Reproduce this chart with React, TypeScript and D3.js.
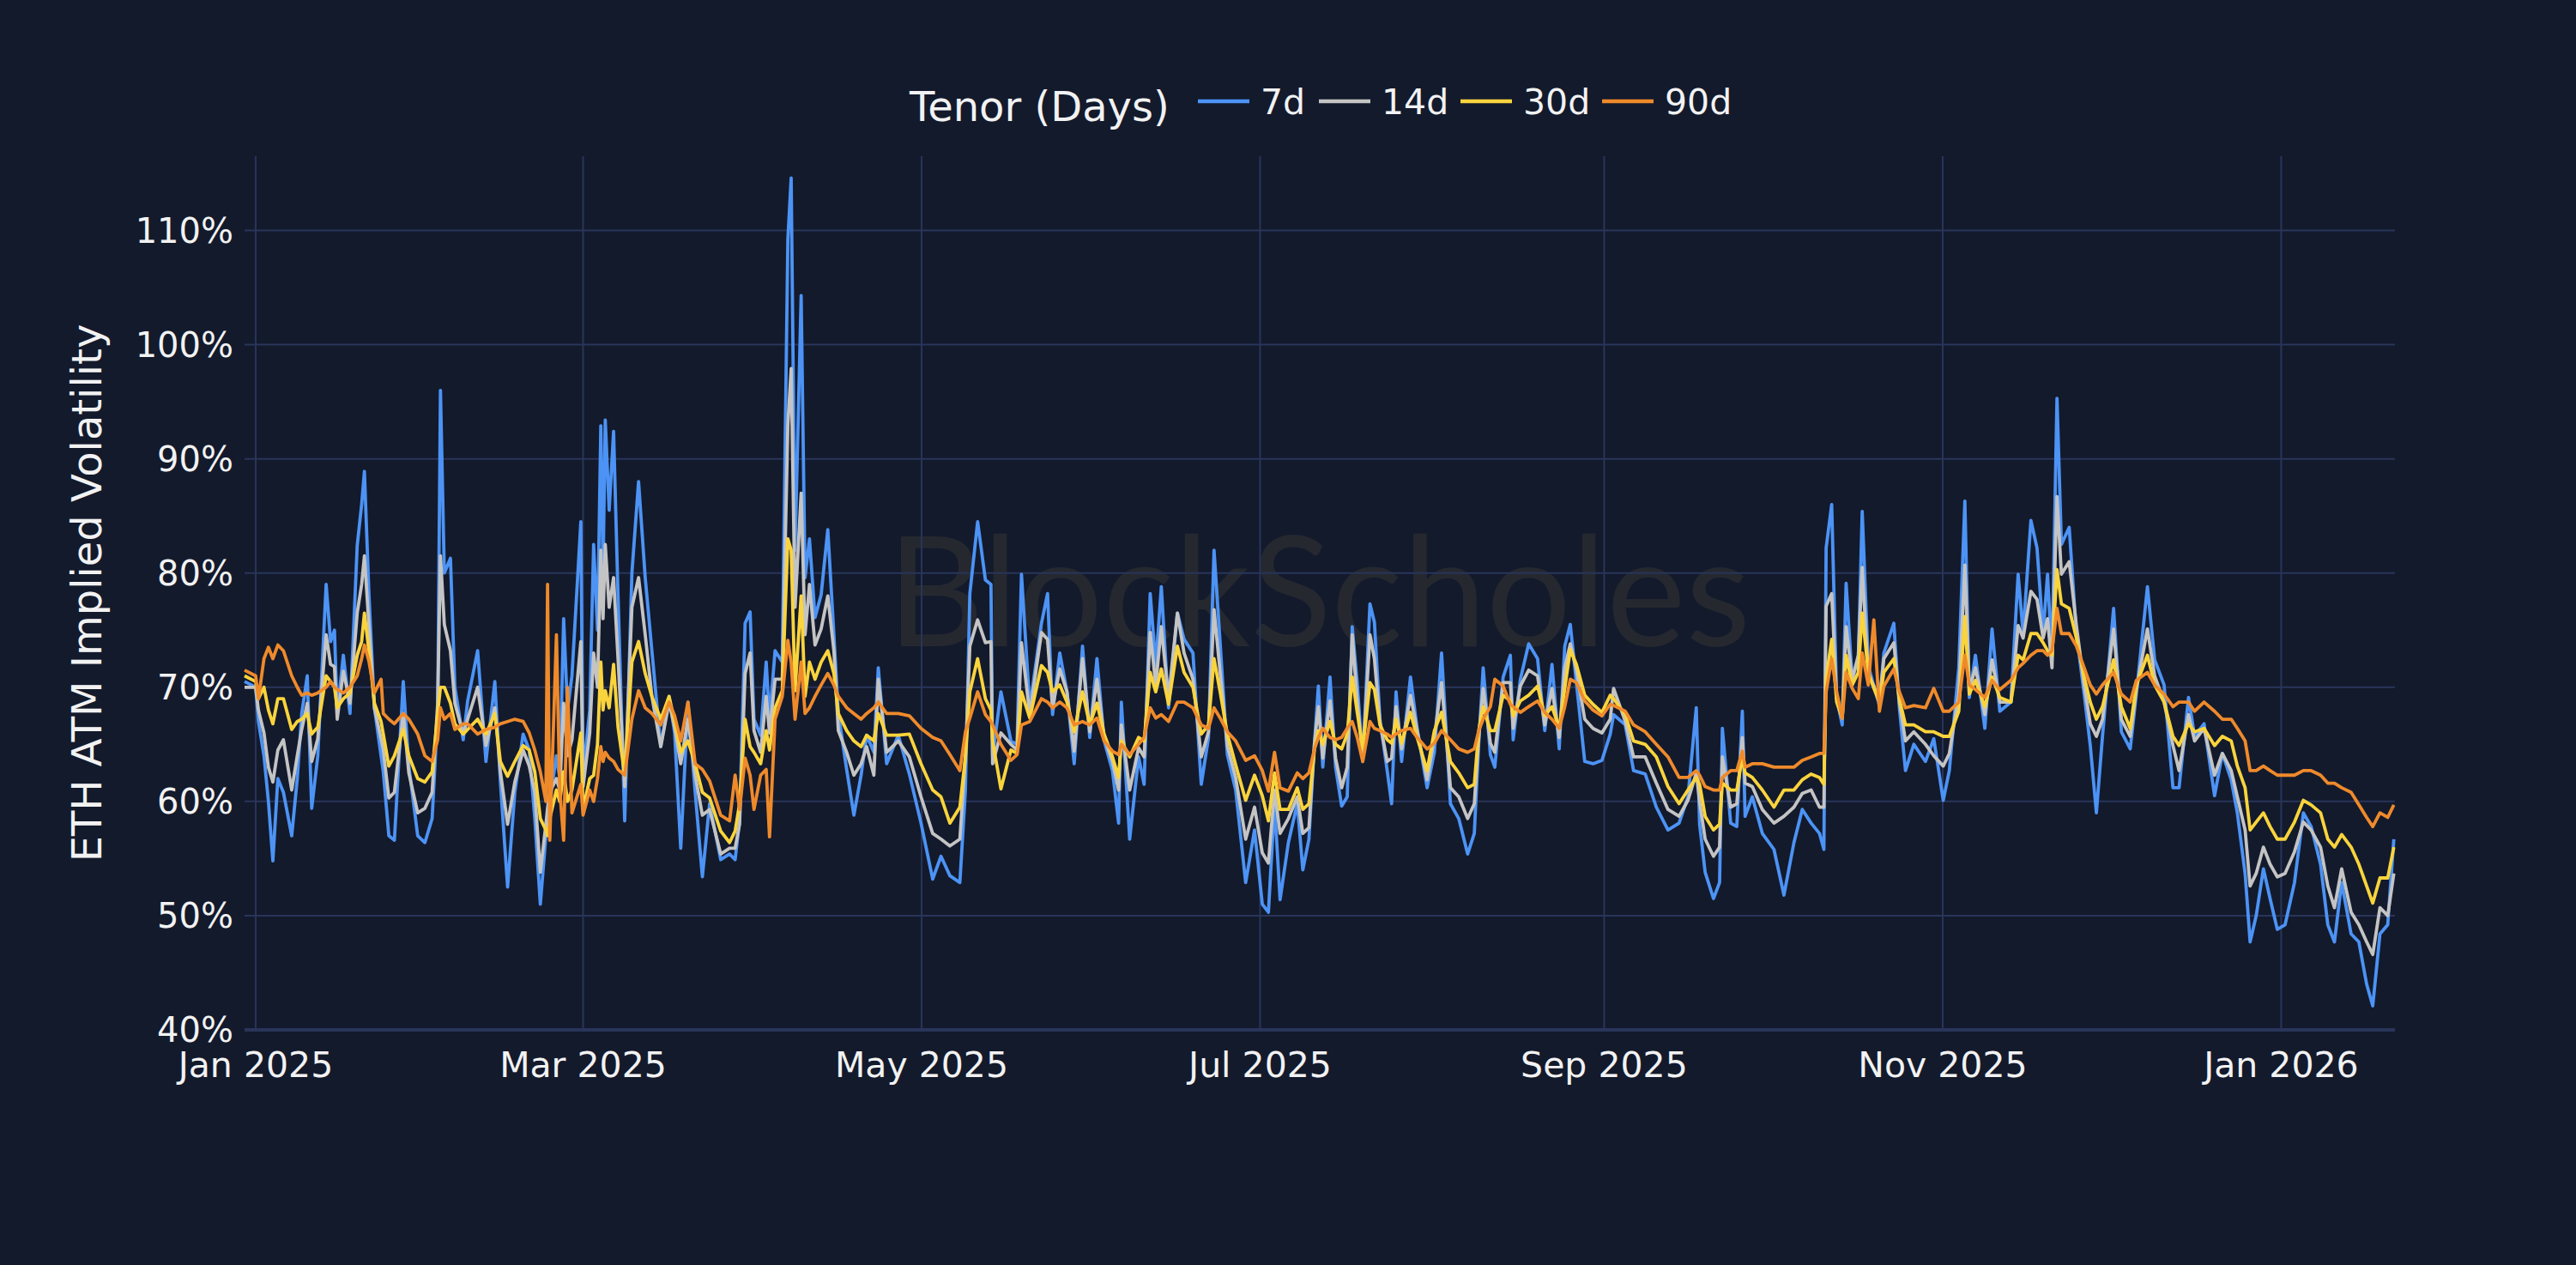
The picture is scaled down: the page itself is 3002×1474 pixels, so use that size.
import { useEffect } from "react";
import * as d3 from "d3";

// days after 2025-01-01 (fractional = intraday)
const startDate = "2025-01-01";
const dayOffsets = [
  -2, 0, 0.5, 1.5, 2.3, 3.1, 4, 5, 6.5, 7.5,
  8.3, 9.3, 10.1, 11.2, 12.7, 13.5, 14.2, 14.7, 15.8, 17,
  18.3, 19.1, 19.6, 20.4, 21.4, 22.6, 23, 24, 25, 26.6,
  27.6, 29.2, 30.5, 31.8, 32.8, 33.3, 34, 35.1, 35.9, 37.4,
  38.2, 40, 41.5, 43.1, 44.1, 45.4, 46.7, 48.2, 49.3, 50.3,
  51.3, 52.3, 52.6, 53, 54.2, 54.8, 55.5, 56.2, 57, 58.6,
  59, 60.2, 60.9, 61.6, 62.2, 62.6, 63, 63.7, 64.5, 65.3,
  66.5, 67.8, 69, 70.2, 71.4, 73, 74.5, 75.5, 76.6, 77.9,
  79.2, 80.5, 81.8, 83.8, 85.4, 86.4, 87.2, 88.2, 89.1, 89.8,
  91, 92, 92.6, 93.6, 94.9, 95.9, 96.5, 97.2, 98.3, 99,
  99.8, 100.8, 101.9, 103.1, 104.2, 105, 106.5, 107.8, 109.1, 110.1,
  111.4, 112.2, 113.7, 115.8, 117.8, 119.9, 122, 123.5, 125.1, 126.9,
  127.9, 128.7, 130.1, 131.5, 132.5, 132.8, 134.3, 136.1, 137.2, 138,
  139.5, 141.6, 142.7, 143.6, 144.9, 146.2, 147.5, 149, 150.3, 151.6,
  152.9, 154.4, 155.5, 156, 157.5, 159.1, 160.1, 161.2, 162.2, 163.2,
  164.5, 166.1, 167.3, 168.9, 170.4, 171.7, 172.7, 173.8, 175.1, 176.6,
  178.4, 180, 181.4, 182.5, 183.6, 184.6, 186.1, 187.7, 188.7, 189.8,
  190.8, 191.5, 192.3, 193.6, 194.6, 195.7, 196.7, 197.6, 198.5, 199.5,
  200.8, 201.6, 202.6, 203.9, 204.7, 205.5, 206.5, 208.1, 209.3, 211.1,
  212.4, 213.7, 215.3, 216.8, 218.4, 219.6, 220.4, 221.2, 222.5, 223.3,
  224.8, 226.1, 226.6, 227.9, 229.4, 231, 232.3, 233.6, 234.9, 235.9,
  236.9, 238, 239.5, 241, 242.6, 244.1, 244.7, 246.8, 248.3, 250.4,
  252.4, 254.5, 256.5, 258.1, 259.6, 260.2, 261.2, 262.7, 263.8, 264.3,
  265.8, 266.9, 267.9, 268.4, 269.7, 271.5, 273.6, 275.4, 277.2, 278.7,
  280.3, 281.8, 282.6, 283, 284, 284.9, 285.9, 286.6, 287.7, 288.8,
  289.5, 290.6, 291.6, 292.6, 293.4, 295.2, 296.2, 297.3, 298.8, 300.9,
  302.4, 304.1, 305.2, 306.9, 308, 308.8, 309.9, 311.6, 312.9, 314.3,
  316.3, 317.6, 318.5, 319.9, 321, 322.1, 322.9, 323.7, 324.6, 325.4,
  326.8, 328.1, 329.5, 330.6, 331.7, 332.8, 334.8, 336.2, 337.8, 338.9,
  340.9, 342.2, 343.9, 345.5, 346.6, 348.3, 349.4, 351.1, 353, 354.4,
  356, 357.1, 358.5, 359.4, 360.5, 361.8, 363, 364.3, 365.7, 367.4,
  369, 370.4, 372.1, 373.4, 374.6, 375.9, 377.6, 379, 380.4, 381.5,
  382.8, 384.2, 385.3,
];

const iv7d = [
  70.5, 70, 67, 64, 60, 54.8, 62, 60.8, 57, 62,
  67.7, 71, 59.4, 64, 79, 74, 75, 67.7, 72.8, 67.7,
  82.4, 86, 88.9, 78.3, 68.2, 64, 62.6, 57, 56.6, 70.5,
  63.1, 57, 56.4, 58.5, 67.7, 96, 80, 81.3, 70, 65.4,
  68.8, 73.2, 63.5, 70.5, 61.7, 52.5, 60.8, 65.9, 64.5, 58.5,
  51, 57, 57.5, 60, 64, 62, 76, 68, 71, 84.5,
  62.3, 68, 82.5, 75, 92.9, 80, 93.4, 85.5, 92.4, 78,
  58.3, 80, 88, 79.6, 73.2, 64.8, 69.2, 66, 55.9, 68.7,
  60.8, 53.4, 59.8, 54.9, 55.4, 54.9, 58.3, 75.6, 76.6, 67.2,
  65.8, 72.2, 67.2, 73.2, 72.2, 109.2, 114.6, 82, 104.3, 79.6,
  83, 76.1, 78.1, 83.8, 74.6, 67.7, 62.8, 58.8, 62.3, 65.8,
  64.3, 71.7, 63.3, 65.8, 62.4, 58.1, 53.2, 55.2, 53.5, 52.9,
  61, 78.2, 84.5, 79.4, 79, 63.9, 69.6, 65.3, 65, 79.9,
  68.2, 75.6, 78.2, 67.6, 73, 69.6, 63.3, 73.6, 65.6, 72.5,
  65.3, 62.7, 58.1, 68.7, 56.7, 63.9, 61.5, 78.2, 71.9, 78.8,
  68.2, 76.5, 74.2, 73, 61.5, 65.6, 82, 73.9, 64.1, 61,
  52.9, 57.5, 51, 50.3, 59.8, 51.4, 56.4, 59.8, 54, 56.7,
  65.1, 70.1, 63, 70.9, 63, 59.6, 60.4, 75.3, 70.4, 63.5,
  77.3, 75.7, 67.2, 62.7, 59.8, 69.6, 63.5, 70.9, 66.4, 61.2,
  64.3, 73, 59.8, 58.5, 55.4, 57.2, 65.1, 71.7, 64.1, 63,
  70.9, 72.8, 65.4, 70.7, 73.8, 72.5, 66.2, 72, 64.6, 73.6,
  75.5, 70.4, 63.5, 63.3, 63.6, 65.9, 67.6, 66.7, 62.7, 62.4,
  59.5, 57.5, 58.1, 60.4, 68.2, 58, 53.8, 51.5, 52.9, 66.4,
  58.1, 57.8, 67.9, 58.7, 60.4, 57.2, 55.8, 51.8, 56.4, 59.3,
  58.1, 57.2, 55.8, 82.2, 86, 69, 66.7, 79.1, 70.7, 72.5,
  85.4, 71.9, 70.1, 68.4, 73, 75.6, 68.2, 62.7, 65, 63.5,
  65.5, 60.1, 62.7, 71.7, 86.3, 69.1, 72.8, 66.4, 75.1, 67.9,
  68.7, 79.9, 74.7, 84.6, 82.2, 74.7, 79.9, 72.4, 95.3, 82.5,
  84, 74.7, 69.4, 64.9, 59, 65.7, 76.9, 66.1, 64.6, 69.4,
  78.8, 72.4, 70.2, 61.2, 61.2, 69.1, 65.7, 66.8, 60.5, 64.2,
  61.9, 59, 53.7, 47.7, 50, 54.1, 51.5, 48.8, 49.2, 52.9,
  59, 57.8, 54.5, 49.2, 47.7, 52.9, 48.4, 47.7, 44, 42.1,
  48.4, 49.2, 56.7,
];

const iv14d = [
  70, 70, 68, 66, 63, 61.7, 64.5, 65.4, 61, 64,
  66.3, 68.6, 63.5, 65.5, 74.6, 72, 71.8, 67.2, 71.4, 68.6,
  76.5, 79, 81.5, 75.5, 68.2, 65.5, 64.5, 60.3, 60.8, 67.7,
  62.5, 59, 59.4, 60.8, 68.6, 81.5, 75.5, 73.2, 68.6, 65.9,
  67.2, 70, 64.9, 68.2, 62.6, 58, 61.7, 64.5, 63.1, 60.8,
  53.8, 58, 59.4, 60.8, 62, 61, 68.6, 64, 65.4, 74,
  61.3, 66, 73, 70, 82, 76, 82.5, 77, 79.6, 72.5,
  61.3, 77, 79.6, 74.6, 69.2, 64.8, 68.7, 66.5, 63.3, 67.2,
  62.3, 58.8, 59.3, 55.4, 55.9, 55.9, 58, 71.2, 73, 66.2,
  64.3, 69.2, 66, 70.7, 70.7, 92.9, 97.9, 77, 87, 74.6,
  79, 73.7, 75.1, 78, 73.2, 66.2, 64.3, 62.3, 63.3, 64.8,
  62.3, 70.7, 64.3, 65.3, 63.9, 60.4, 57.2, 56.7, 56.1, 56.7,
  63.9, 73.6, 75.9, 73.9, 74, 63.3, 66, 65, 64.5, 73.9,
  67.6, 74.8, 74.2, 68.2, 71.6, 69.6, 64.4, 72.5, 66.1, 70.7,
  65.6, 63.5, 61, 66.7, 61, 64.7, 63.9, 74.8, 70.2, 75.3,
  69, 76.5, 73, 70.7, 63.9, 66.1, 76.8, 71.3, 64.9, 62.1,
  56.7, 59.5, 55.5, 54.6, 61, 57.2, 58.5, 60.4, 57.2, 57.7,
  65.1, 68.3, 63.8, 68.8, 63.8, 61.2, 63, 74.6, 68.8, 63.8,
  74.6, 72.5, 66.9, 63.5, 63.8, 68.3, 64.6, 69.3, 66.2, 61.9,
  65.6, 70.4, 61.2, 60.4, 58.5, 59.8, 65.6, 69.9, 65.1, 64.3,
  70.4, 70.4, 66.4, 70.1, 71.5, 71, 66.7, 69.9, 65.6, 71.7,
  73.8, 71.5, 67.2, 66.4, 66, 67.2, 69.9, 67, 63.9, 63.9,
  61.6, 59.3, 58.7, 60.1, 62.5, 60, 56.7, 55.2, 56, 63.9,
  59.5, 59.8, 65.6, 61.6, 61.3, 59.3, 58.1, 58.7, 59.5, 60.7,
  61, 59.5, 59.5, 77.1, 78.2, 69, 67.3, 75.3, 70.7, 72.8,
  80.5, 71, 70.1, 68.7, 72.5, 73.9, 68.7, 65.3, 66.1, 65,
  64, 63.1, 64.2, 69.4, 80.7, 69.8, 71.7, 67.6, 72.4, 68.7,
  68.7, 75.4, 74.3, 78.4, 77.7, 74.3, 76, 71.7, 86.7, 79.9,
  81, 75.4, 70.2, 66.8, 65.7, 67.2, 75.1, 67.2, 65.7, 69.8,
  75.1, 71, 68.7, 64.9, 62.7, 67.6, 65.3, 66.4, 62.3, 64.2,
  62.7, 60.4, 57.5, 52.6, 53.7, 56, 54.5, 53.4, 53.7, 55.6,
  58.2, 57.5, 56, 52.6, 50.7, 54.1, 50.3, 49.2, 47.7, 46.6,
  50.7, 50, 53.7,
];

const iv30d = [
  71, 70.5, 69, 70, 68, 66.8, 69, 69, 66.3, 67,
  67.2, 67.7, 65.9, 66.5, 71, 70.5, 70, 68.2, 69, 69.5,
  72.8, 74, 76.5, 73.2, 68.6, 67, 65.9, 63.1, 64, 66.3,
  64, 62, 61.7, 62.6, 67.7, 70, 70, 68.6, 66.8, 65.9,
  66.3, 67.2, 65.9, 67.7, 63.5, 62.2, 63.5, 64.9, 64.5, 62.6,
  58.5, 57.5, 57, 58.5, 61, 60, 62.6, 60, 61, 66,
  59.3, 62, 62.3, 65, 72.2, 68, 69.7, 68.2, 72, 66.5,
  62.3, 72.2, 74, 71.2, 69.2, 67.2, 69.2, 67, 64.3, 65.3,
  63.3, 60.8, 60.3, 57.4, 56.4, 57.4, 59.8, 67.2, 64.8, 64.3,
  63.3, 66.2, 64.5, 68.2, 69.7, 83, 82, 69.7, 78, 69.2,
  72.2, 70.7, 72.2, 73.2, 71.2, 67.7, 66.2, 65.3, 64.8, 65.8,
  65.3, 67.7, 65.8, 65.8, 65.9, 63.3, 61, 60.4, 58.1, 59.5,
  63.9, 69.6, 72.5, 69, 68, 65.3, 61.1, 64.5, 64.2, 69.6,
  67.3, 71.9, 71.3, 69.6, 70.2, 68.7, 66.1, 69.6, 66.7, 68.6,
  65.9, 63.9, 62.1, 65.3, 63.9, 65.6, 65.3, 71.3, 69.6, 71.6,
  68.5, 73.6, 71.3, 70, 65.9, 66.7, 72.5, 69.6, 65.9, 63.2,
  60.1, 62.3, 60.5, 58.3, 62.5, 59.3, 59.3, 61.2, 59.3, 59.8,
  64.6, 66.2, 65, 67, 65, 64.6, 65.9, 70.9, 67.8, 64.6,
  70.4, 69.8, 66.7, 65.4, 65.1, 67.2, 65.1, 67.8, 65.6, 62.7,
  66.2, 67.8, 63.5, 62.5, 61.2, 61.5, 66.2, 68.3, 66.2, 66.2,
  69.3, 68.8, 67.5, 68.8, 69.3, 70.1, 67.5, 68.3, 66.4, 69.9,
  73.3, 72, 69.3, 68.5, 67.8, 69.3, 69, 67.6, 65.3, 65,
  63.9, 61.3, 59.8, 61, 62.1, 61.5, 58.7, 57.5, 58, 61.6,
  61, 61, 63.9, 62.5, 62.1, 61, 59.5, 61, 61, 61.9,
  62.4, 62.1, 61.5, 70.7, 74.2, 68.7, 67.3, 72.8, 70.2, 71.3,
  76.5, 71.3, 69.9, 68.7, 71.3, 72.5, 69, 66.7, 66.7, 66.1,
  66.1, 65.7, 65.7, 67.9, 76.2, 69.4, 70.6, 68.3, 70.9, 69.1,
  68.7, 72.8, 72.4, 74.7, 74.7, 73.9, 73.2, 72.8, 80.3, 77.3,
  76.9, 74.3, 70.9, 68.7, 67.2, 68.3, 72.4, 68.3, 66.4, 70.2,
  72.8, 70.2, 68.7, 65.7, 64.9, 66.8, 66.1, 66.4, 64.9, 65.7,
  65.3, 63.1, 61.2, 57.5, 58.2, 59, 57.8, 56.7, 56.7, 58.2,
  60.1, 59.7, 59, 56.7, 56, 57.1, 56, 54.5, 52.6, 51.1,
  53.3, 53.3, 56,
];

const iv90d = [
  71.5, 71, 69, 72.5, 73.5, 72.5, 73.7, 73.2, 71, 70,
  69.3, 69.5, 69.3, 69.5, 70, 70.5, 70, 69.8, 69.5, 70,
  71, 72.5, 73.7, 72.3, 69.5, 70.7, 67.7, 67.2, 66.8, 67.7,
  67.2, 65.9, 64, 63.5, 65.4, 68.2, 67.2, 67.7, 66.3, 66.8,
  66.8, 65.9, 66.3, 66.5, 66.8, 67, 67.2, 67, 66, 64.5,
  62.6, 60, 79, 56.6, 74.6, 61, 56.6, 70, 59, 61.5,
  58.8, 61, 60, 62, 64.8, 63.5, 64.3, 63.8, 63.5, 62.8,
  62.3, 67.2, 69.7, 68.2, 67.7, 66.7, 68.7, 67.5, 65.3, 68.7,
  63.3, 62.8, 61.8, 58.8, 58.3, 62.3, 59.3, 63.8, 62.3, 59.3,
  62.3, 62.8, 56.9, 67.2, 69.2, 74.1, 72.2, 67.2, 72.2, 67.7,
  68.2, 69.2, 70.2, 71.2, 70.2, 69.2, 68.2, 67.7, 67.2, 67.7,
  68.2, 68.7, 67.7, 67.7, 67.5, 66.4, 65.6, 65.3, 64.1, 62.7,
  66.1, 67.3, 69.6, 67.6, 67, 66.7, 65, 63.6, 64.1, 66.7,
  67, 69, 68.7, 68.2, 68.7, 68.2, 66.7, 67, 66.7, 67.3,
  65.3, 64.4, 64.1, 65, 64.1, 65, 65.6, 68.2, 67.3, 67.6,
  67, 68.7, 68.7, 68.2, 66.7, 66.4, 68.2, 67.3, 66.1, 65.3,
  63.6, 64, 62.7, 60.9, 64.3, 61.2, 60.9, 62.5, 62, 62.5,
  64.6, 65.6, 66.4, 65.6, 65.4, 65.6, 66.4, 67, 65.6, 63.5,
  67, 66.4, 66.2, 65.9, 65.6, 65.9, 66.2, 66.4, 65.6, 64.6,
  65.1, 66.2, 65.4, 64.6, 64.3, 64.6, 66.2, 67.2, 68.3, 70.7,
  70.1, 68.5, 68.3, 67.8, 68.3, 68.8, 67.8, 67.2, 66.4, 68.3,
  70.7, 70.4, 68.8, 68, 67.5, 68.5, 68.4, 67.9, 66.7, 66.1,
  65, 63.9, 62.1, 62.1, 62.7, 62.3, 61.3, 61, 61, 62.1,
  62.7, 62.7, 64.4, 63, 63.3, 63.3, 63, 63, 63, 63.6,
  63.9, 64.2, 64.2, 69.6, 72.5, 69.6, 67.3, 71.3, 69.9, 69,
  73, 70.2, 75.9, 67.9, 70.1, 71.6, 69.6, 68.2, 68.4, 68.2,
  69.9, 67.9, 67.9, 68.7, 72.8, 70.2, 69.8, 69.1, 70.6, 69.8,
  70.6, 71.7, 72.1, 72.8, 73.2, 73.2, 72.8, 73.2, 76.9, 74.7,
  74.7, 73.6, 71.7, 70.2, 69.4, 70.2, 71.3, 69.4, 68.7, 70.6,
  71.3, 70.2, 69.4, 68.3, 68.7, 68.7, 67.9, 68.7, 67.9, 67.2,
  67.2, 66.4, 65.3, 62.7, 62.7, 63.1, 62.7, 62.3, 62.3, 62.3,
  62.7, 62.7, 62.3, 61.6, 61.6, 61.2, 60.8, 59.7, 58.6, 57.8,
  59, 58.6, 59.7,
];

const tenorLabels = ["7d", "14d", "30d", "90d"];
const tenorSeries = [iv7d, iv14d, iv30d, iv90d];
const tenorColors = ["#4c93f5", "#c4c4c4", "#fad43c", "#ef8a2b"];

const xTickDates = [
  "2025-01-01",
  "2025-03-01",
  "2025-05-01",
  "2025-07-01",
  "2025-09-01",
  "2025-11-01",
  "2026-01-01",
];
const yTicks = [40, 50, 60, 70, 80, 90, 100, 110];

const width = 3002;
const height = 1474;
const plot = { left: 285, right: 2791, top: 182, bottom: 1200 };

const bg = "#131a2c";
const gridColor = "#29355a";
const textColor = "#f2f2f2";
const font = "'DejaVu Sans', Verdana, sans-serif";

const parseDay = d3.timeParse("%Y-%m-%d");
const base = parseDay(startDate) as Date;
const dayToDate = (d: number) => new Date(base.getTime() + d * 864e5);
const dates = dayOffsets.map(dayToDate);

export default function App() {
  useEffect(() => {
    document.body.style.margin = "0";
    document.body.style.background = bg;
  }, []);

  const xScale = d3
    .scaleTime()
    .domain([dayToDate(-2), dayToDate(385.5)])
    .range([plot.left, plot.right]);

  const yScale = d3
    .scaleLinear()
    .domain([40, 116.5])
    .range([plot.bottom, plot.top]);

  const line = d3
    .line<number>()
    .x((_, i) => xScale(dates[i]))
    .y((v) => yScale(v));

  const fmtMonth = d3.timeFormat("%b %Y");

  // legend layout
  const legendLineY = 118;
  const legendItemX = [1396, 1537, 1702, 1867];

  return (
    <svg
      width={width}
      height={height}
      viewBox={`0 0 ${width} ${height}`}
      style={{ display: "block", background: bg }}
    >
      <rect x={0} y={0} width={width} height={height} fill={bg} />

      {/* watermark */}
      <text
        x={1034}
        y={753}
        textLength={1006}
        lengthAdjust="spacingAndGlyphs"
        fill="#25282f"
        style={{ fontFamily: "Lato, 'Noto Sans', sans-serif", fontSize: 178 }}
      >
        BlockScholes
      </text>

      {/* horizontal grid */}
      {yTicks.map((t) => (
        <line
          key={`hy${t}`}
          x1={plot.left}
          x2={plot.right}
          y1={yScale(t)}
          y2={yScale(t)}
          stroke={gridColor}
          strokeWidth={t === 40 ? 4 : 2}
        />
      ))}

      {/* vertical grid */}
      {xTickDates.map((d) => {
        const x = xScale(parseDay(d) as Date);
        return (
          <line
            key={`vx${d}`}
            x1={x}
            x2={x}
            y1={plot.top}
            y2={plot.bottom}
            stroke={gridColor}
            strokeWidth={2}
          />
        );
      })}

      {/* series */}
      {tenorSeries.map((s, i) => (
        <path
          key={tenorLabels[i]}
          d={line(s) ?? ""}
          fill="none"
          stroke={tenorColors[i]}
          strokeWidth={3.8}
          strokeLinejoin="round"
        />
      ))}

      {/* y tick labels */}
      {yTicks.map((t) => (
        <text
          key={`yl${t}`}
          x={272}
          y={yScale(t)}
          dy="0.36em"
          textAnchor="end"
          fill={textColor}
          style={{ fontFamily: font, fontSize: 40 }}
        >
          {`${t}%`}
        </text>
      ))}

      {/* x tick labels */}
      {xTickDates.map((d) => (
        <text
          key={`xl${d}`}
          x={xScale(parseDay(d) as Date)}
          y={1255}
          textAnchor="middle"
          fill={textColor}
          style={{ fontFamily: font, fontSize: 41 }}
        >
          {fmtMonth(parseDay(d) as Date)}
        </text>
      ))}

      {/* y axis title */}
      <text
        transform={`translate(118, ${(plot.top + plot.bottom) / 2}) rotate(-90)`}
        textAnchor="middle"
        fill={textColor}
        style={{ fontFamily: font, fontSize: 48 }}
      >
        ETH ATM Implied Volatility
      </text>

      {/* legend */}
      <text
        x={1060}
        y={141}
        fill={textColor}
        style={{ fontFamily: font, fontSize: 48 }}
      >
        Tenor (Days)
      </text>
      {tenorLabels.map((label, i) => (
        <g key={`lg${label}`}>
          <line
            x1={legendItemX[i]}
            x2={legendItemX[i] + 60}
            y1={legendLineY}
            y2={legendLineY}
            stroke={tenorColors[i]}
            strokeWidth={4.5}
          />
          <text
            x={legendItemX[i] + 73}
            y={133}
            fill={textColor}
            style={{ fontFamily: font, fontSize: 41 }}
          >
            {label}
          </text>
        </g>
      ))}
    </svg>
  );
}
